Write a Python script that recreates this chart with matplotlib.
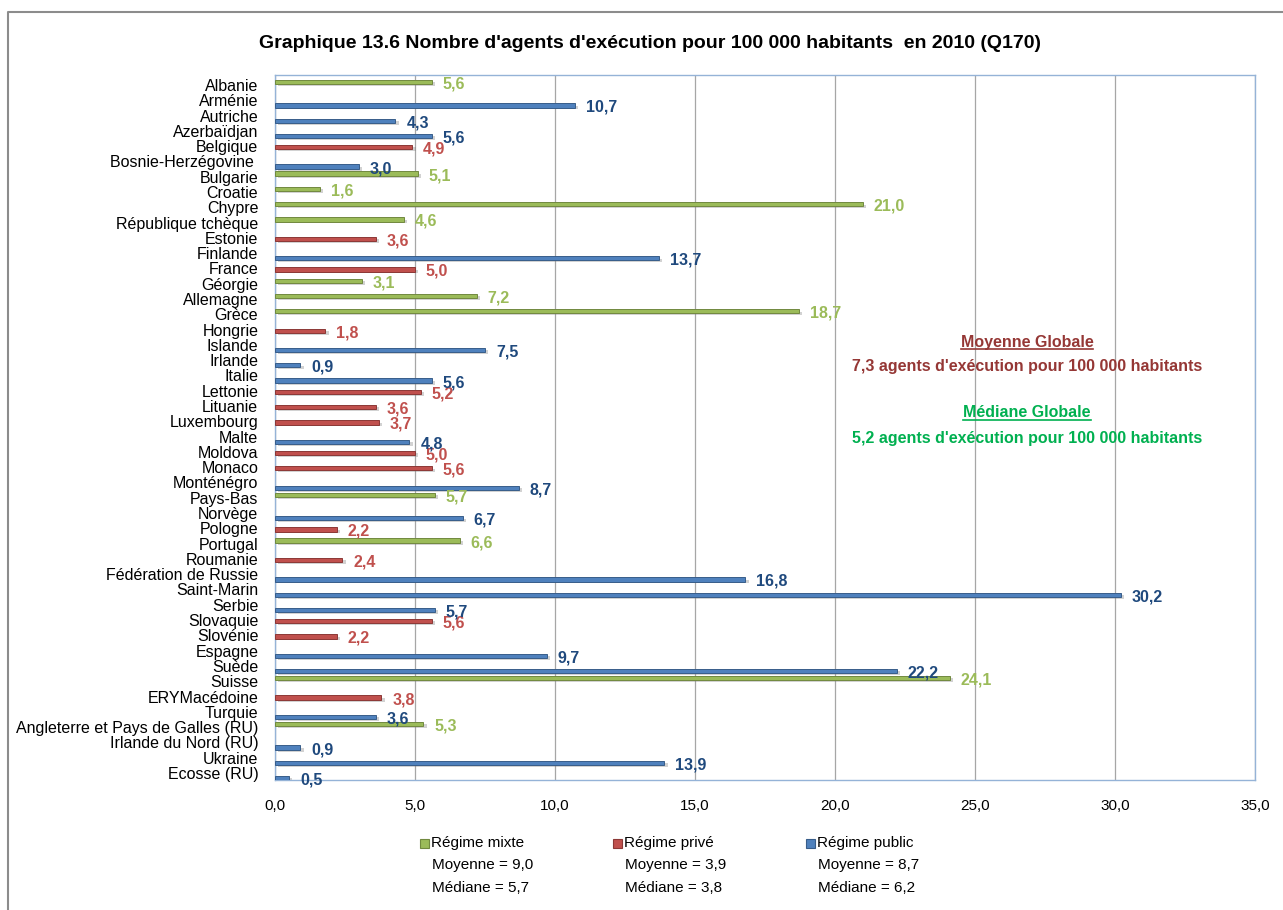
import matplotlib.pyplot as plt
from matplotlib.lines import Line2D
from matplotlib.patches import Rectangle

plt.rcParams['font.family'] = ['Liberation Sans', 'DejaVu Sans']

countries = [
    "Albanie", "Arménie", "Autriche", "Azerbaïdjan", "Belgique",
    "Bosnie-Herzégovine ", "Bulgarie", "Croatie", "Chypre", "République tchèque",
    "Estonie", "Finlande", "France", "Géorgie", "Allemagne",
    "Grèce", "Hongrie", "Islande", "Irlande", "Italie",
    "Lettonie", "Lituanie", "Luxembourg", "Malte", "Moldova",
    "Monaco", "Monténégro", "Pays-Bas", "Norvège", "Pologne",
    "Portugal", "Roumanie", "Fédération de Russie", "Saint-Marin", "Serbie",
    "Slovaquie", "Slovénie", "Espagne", "Suède", "Suisse",
    "ERYMacédoine", "Turquie", "Angleterre et Pays de Galles (RU)",
    "Irlande du Nord (RU)", "Ukraine", "Ecosse (RU)",
]
regime = [
    "mixte", "public", "public", "public", "prive",
    "public", "mixte", "mixte", "mixte", "mixte",
    "prive", "public", "prive", "mixte", "mixte",
    "mixte", "prive", "public", "public", "public",
    "prive", "prive", "prive", "public", "prive",
    "prive", "public", "mixte", "public", "prive",
    "mixte", "prive", "public", "public", "public",
    "prive", "prive", "public", "public", "mixte",
    "prive", "public", "mixte",
    "public", "public", "public",
]
values = [
    5.6, 10.7, 4.3, 5.6, 4.9,
    3.0, 5.1, 1.6, 21.0, 4.6,
    3.6, 13.7, 5.0, 3.1, 7.2,
    18.7, 1.8, 7.5, 0.9, 5.6,
    5.2, 3.6, 3.7, 4.8, 5.0,
    5.6, 8.7, 5.7, 6.7, 2.2,
    6.6, 2.4, 16.8, 30.2, 5.7,
    5.6, 2.2, 9.7, 22.2, 24.1,
    3.8, 3.6, 5.3,
    0.9, 13.9, 0.5,
]

series = ["mixte", "prive", "public"]
series_names = {"mixte": "Régime mixte", "prive": "Régime privé", "public": "Régime public"}
series_mean = {"mixte": "9,0", "prive": "3,9", "public": "8,7"}
series_median = {"mixte": "5,7", "prive": "3,8", "public": "6,2"}

bar_color = {"mixte": "#9BBB59", "prive": "#C0504D", "public": "#4F81BD"}
edge_color = {"mixte": "#71893F", "prive": "#8C3836", "public": "#385D8A"}
label_color = {"mixte": "#9BBB59", "prive": "#C0504D", "public": "#1F497D"}
slot = {"mixte": -0.2, "prive": 0.07, "public": 0.34}


def fmt(v):
    return f"{v:.1f}".replace(".", ",")


fig = plt.figure(figsize=(12.83, 9.10), dpi=100)
ax = fig.add_axes([275 / 1283, 1 - 780 / 910, 980 / 1283, 705 / 910])

for s in series:
    idx = [i for i, r in enumerate(regime) if r == s]
    ys = [i + slot[s] for i in idx]
    xs = [values[i] for i in idx]
    # soft drop shadow under each bar
    ax.barh([y + 0.14 for y in ys], xs, height=0.24, left=0.12,
            color="#808080", alpha=0.35, linewidth=0, zorder=2)
    ax.barh(ys, xs, height=0.28, color=bar_color[s],
            edgecolor=edge_color[s], linewidth=0.7, zorder=3)
    for x, y in zip(xs, ys):
        ax.annotate(fmt(x), (x, y), xytext=(11, -2), textcoords="offset pixels",
                    ha="left", va="center", fontsize=11.5, fontweight="bold",
                    color=label_color[s], zorder=4)

ax.set_ylim(45.46, -0.65)
ax.set_yticks(range(len(countries)))
ax.set_yticklabels(countries, fontsize=11.5)
ax.set_xlim(0, 35)
ax.set_xticks(range(0, 36, 5))
ax.set_xticklabels([fmt(t) for t in range(0, 36, 5)], fontsize=11)
ax.tick_params(axis="y", length=0, pad=12)
ax.tick_params(axis="x", length=0, pad=14)
ax.grid(axis="x", color="#A6A6A6", linewidth=0.9, zorder=1)
ax.set_axisbelow(True)
for sp in ax.spines.values():
    sp.set_color("#95B3D7")
    sp.set_linewidth(1.0)

fig.text(650 / 1283, 1 - 43 / 910,
         "Graphique 13.6 Nombre d'agents d'exécution pour 100 000 habitants  en 2010 (Q170)",
         ha="center", va="center", fontsize=14, fontweight="bold")

# legend with mean and median under each series
legend_x = {"mixte": 420, "prive": 613, "public": 806}
for s in series:
    x0 = legend_x[s]
    fig.add_artist(Rectangle((x0 / 1283, 1 - 848 / 910), 9 / 1283, 9 / 910,
                             transform=fig.transFigure, facecolor=bar_color[s],
                             edgecolor=edge_color[s], linewidth=0.8))
    fig.text((x0 + 11) / 1283, 1 - 843 / 910, series_names[s],
             ha="left", va="center", fontsize=11)
    fig.text((x0 + 12) / 1283, 1 - 865 / 910, "Moyenne = " + series_mean[s],
             ha="left", va="center", fontsize=11)
    fig.text((x0 + 12) / 1283, 1 - 888 / 910, "Médiane = " + series_median[s],
             ha="left", va="center", fontsize=11)

# global mean / median notes, headings underlined
notes = [
    (342, "Moyenne Globale", "#953735", True),
    (366, "7,3 agents d'exécution pour 100 000 habitants", "#953735", False),
    (413, "Médiane Globale", "#00B050", True),
    (438, "5,2 agents d'exécution pour 100 000 habitants", "#00B050", False),
]
renderer = fig.canvas.get_renderer()
for ypix, txt, col, underline in notes:
    t = fig.text(1027 / 1283, 1 - ypix / 910, txt, ha="center", va="center",
                 fontsize=11.5, fontweight="bold", color=col)
    if underline:
        bb = t.get_window_extent(renderer).transformed(fig.transFigure.inverted())
        fig.add_artist(Line2D([bb.x0, bb.x1], [bb.y0 + 0.001, bb.y0 + 0.001],
                              transform=fig.transFigure, color=col, linewidth=1.2))

# chart area frame
fig.add_artist(Line2D([8 / 1283, 8 / 1283, 1.0], [0.0, 1 - 12 / 910, 1 - 12 / 910],
                      transform=fig.transFigure, color="#8C8C8C", linewidth=1.5))

fig.savefig("out.png", dpi=100)
